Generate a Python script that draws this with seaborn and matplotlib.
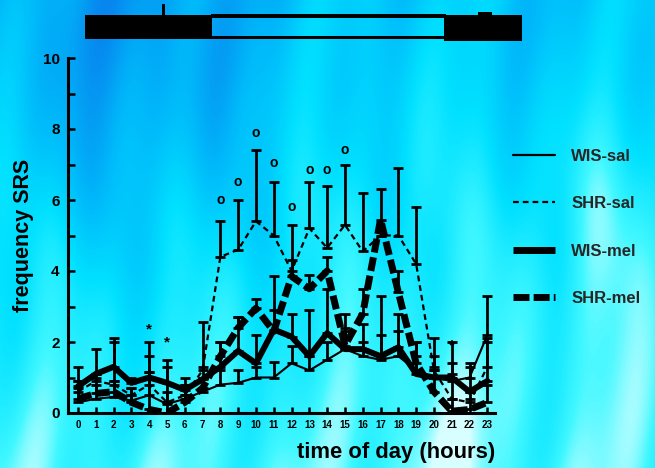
import numpy as np
import pandas as pd
import matplotlib
matplotlib.use("Agg")
import matplotlib.pyplot as plt
import seaborn as sns
from matplotlib.lines import Line2D
from matplotlib.patches import Rectangle
from matplotlib.colors import LinearSegmentedColormap

# ---------------- data ----------------
hours = list(range(24))
hour_labels = [str(h) for h in hours]

wis_sal = [0.3, 0.4, 0.45, 0.35, 0.5, 0.25, 0.4, 0.6, 0.8, 0.85, 1.0, 1.0,
           1.4, 1.2, 1.5, 1.8, 1.6, 1.5, 1.6, 1.2, 1.0, 0.9, 1.0, 2.2]
wis_sal_top = [0.9, 1.0, 0.9, 0.7, 1.15, 0.6, 0.8, 1.0, 1.2, 1.2, 1.3, 1.45,
               1.9, 1.6, 2.0, 2.3, 2.0, 2.2, 2.3, 1.6, 1.3, 1.4, 1.3, 3.3]

shr_sal = [0.6, 0.9, 0.8, 0.5, 0.8, 0.3, 0.5, 1.2, 4.4, 4.6, 5.4, 5.0,
           4.0, 5.2, 4.65, 5.3, 4.55, 5.0, 5.0, 4.2, 1.2, 0.4, 0.3, 1.3]
shr_sal_top = [0.9, 1.1, 2.0, 0.7, 1.6, 1.3, 0.8, 2.55, 5.4, 6.0, 7.4, 6.5,
               5.3, 6.5, 6.4, 7.0, 6.2, 5.0, 6.9, 5.8, 1.6, 1.1, 0.6, 2.0]

wis_mel = [0.75, 1.1, 1.3, 0.85, 1.0, 0.85, 0.65, 0.95, 1.3, 1.75, 1.4, 2.35,
           2.15, 1.6, 2.25, 1.8, 1.8, 1.6, 1.85, 1.1, 1.0, 1.0, 0.6, 0.9]
wis_mel_top = [1.3, 1.8, 2.1, 1.0, 2.0, 1.5, 1.0, 1.3, 2.0, 2.7, 2.2, 3.85,
               2.8, 2.9, 3.5, 2.8, 2.5, 3.3, 2.8, 2.0, 2.1, 2.0, 1.4, 2.1]

shr_mel = [0.4, 0.55, 0.6, 0.3, 0.1, 0.0, 0.3, 0.7, 1.6, 2.4, 2.95, 2.3,
           3.85, 3.5, 4.0, 1.9, 2.8, 5.45, 3.4, 1.4, 0.6, 0.05, 0.1, 0.3]
shr_mel_top = [0.7, 0.8, 0.9, 0.5, 1.15, 0.3, 0.5, 1.0, 2.0, 2.7, 3.2, 2.9,
               4.3, 3.9, 4.4, 2.4, 3.5, 6.3, 4.0, 2.0, 1.2, 0.4, 0.4, 0.8]

sig_o_hours = [8, 9, 10, 11, 12, 13, 14, 15]
sig_o_y = [6.0, 6.5, 7.9, 7.05, 5.8, 6.85, 6.85, 7.4]
sig_star_hours = [4, 5, 21]
sig_star_y = [2.35, 2.0, 1.9]

series_names = ["WIS-sal", "SHR-sal", "WIS-mel", "SHR-mel"]

# ---------------- style ----------------
sns.set_theme(style="ticks")
plt.rcParams["font.family"] = ["Liberation Sans", "DejaVu Sans"]
plt.rcParams["font.weight"] = "bold"
plt.rcParams["axes.labelweight"] = "bold"

fig = plt.figure(figsize=(6.55, 4.68), dpi=100)

# textured cyan/blue background
H, W = 468, 655
yy, xx = np.mgrid[0:H, 0:W].astype(float)
tex = (0.55 + 0.28 * (yy / H)
       - 0.35 * np.exp(-((xx - 130) / 170.0) ** 2 - ((yy - 40) / 230.0) ** 2)
       - 0.12 * np.exp(-((xx - 560) / 120.0) ** 2 - ((yy - 30) / 120.0) ** 2)
       + 0.08 * np.sin(xx / 23.0 + 1.2 * np.sin(yy / 70.0))
       + 0.04 * np.sin(xx / 9.5 + yy / 110.0)
       + 0.18 * np.exp(-((xx - 440) / 40.0) ** 2 - ((yy - 440) / 120.0) ** 2)
       + 0.15 * np.exp(-((xx - 600) / 40.0) ** 2 - ((yy - 260) / 150.0) ** 2))
cmap = LinearSegmentedColormap.from_list(
    "bg", [(0.0, (0.04, 0.45, 0.92)), (0.35, (0.0, 0.72, 0.98)),
           (0.6, (0.0, 0.88, 1.0)), (0.82, (0.25, 0.97, 1.0)),
           (1.0, (0.85, 1.0, 1.0))])
bg = fig.add_axes([0, 0, 1, 1], zorder=0)
bg.imshow(tex, cmap=cmap, vmin=0, vmax=1, aspect="auto",
          interpolation="bilinear", extent=[0, 1, 0, 1])
bg.axis("off")

ax = fig.add_axes([68 / 655, 1 - 413 / 468, 427 / 655, 355 / 468], zorder=2)
ax.set_facecolor("none")

thin_dash = (0, (2.6, 1.8))
thick_dash = (0, (2.0, 0.7))

sns.lineplot(x=hours, y=wis_sal, ax=ax, color="black", linewidth=1.5)
sns.lineplot(x=hours, y=shr_sal, ax=ax, color="black", linewidth=1.6,
             linestyle=thin_dash)
sns.lineplot(x=hours, y=wis_mel, ax=ax, color="black", linewidth=4.3)
sns.lineplot(x=hours, y=shr_mel, ax=ax, color="black", linewidth=5.0,
             linestyle=thick_dash)

for vals, tops in [(wis_sal, wis_sal_top), (shr_sal, shr_sal_top),
                   (wis_mel, wis_mel_top), (shr_mel, shr_mel_top)]:
    v = np.array(vals)
    up = np.clip(np.array(tops) - v, 0, None)
    ax.errorbar(hours, v, yerr=[np.zeros_like(v), up], fmt="none",
                ecolor="black", elinewidth=2.0, capsize=3.8, capthick=2.0)

for h, y in zip(sig_o_hours, sig_o_y):
    ax.text(h, y, "o", ha="center", va="center", fontsize=10,
            fontweight="bold", color="black")
for h, y in zip(sig_star_hours, sig_star_y):
    ax.text(h, y, "*", ha="center", va="center", fontsize=11,
            fontweight="bold", color="black")

ax.set_xlim(-0.56, 23.43)
ax.set_ylim(0, 10)
ax.set_xticks(hours)
ax.set_xticklabels(hour_labels, fontsize=7, fontweight="bold")
ax.set_yticks(range(0, 11, 2))
ax.set_yticks(range(1, 10, 2), minor=True)
ax.set_yticklabels([str(v) for v in range(0, 11, 2)], fontsize=11,
                   fontweight="bold")
ax.tick_params(axis="both", which="both", direction="in", width=1.8,
               color="black", labelcolor="black")
ax.tick_params(axis="y", which="both", length=5, pad=6)
ax.tick_params(axis="x", which="both", length=4.5, pad=5)
sns.despine(ax=ax)
for s in ["left", "bottom"]:
    ax.spines[s].set_linewidth(2.2)
    ax.spines[s].set_color("black")

ax.set_ylabel("frequency SRS", fontsize=15.5, fontweight="bold", color="black",
              labelpad=6)
ax.set_xlabel("time of day (hours)", fontsize=15.8, fontweight="bold",
              color="black", loc="right", labelpad=9)

handles = [Line2D([], [], color="black", lw=1.6),
           Line2D([], [], color="black", lw=1.6, linestyle=thin_dash),
           Line2D([], [], color="black", lw=5.0, solid_capstyle="butt"),
           Line2D([], [], color="black", lw=5.0, linestyle=(0, (2.3, 0.6)),
                  dash_capstyle="butt")]
leg = ax.legend(handles, series_names, loc="upper left",
                bbox_to_anchor=(1.042, 0.745), frameon=False, borderpad=0,
                borderaxespad=0, handlelength=2.5, handletextpad=1.0,
                labelspacing=1.95, prop={"size": 12, "weight": "bold"})

# light/dark bar at the top
def frect(x0, y0, x1, y1, **kw):
    fig.add_artist(Rectangle((x0 / W, 1 - y1 / H), (x1 - x0) / W,
                             (y1 - y0) / H, transform=fig.transFigure,
                             facecolor="black", edgecolor="none", **kw))

frect(85, 15, 212, 39)
frect(444, 15, 522, 41)
frect(211, 14, 446, 18)
frect(211, 36, 446, 39)
frect(161.5, 4, 165, 16)
frect(478, 12, 492, 16)

fig.savefig("out.png", dpi=100)
